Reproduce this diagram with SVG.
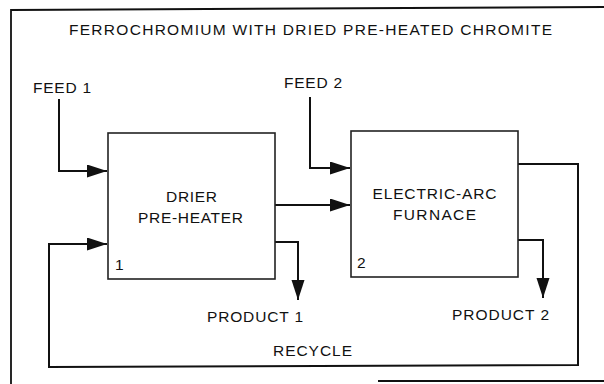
<svg xmlns="http://www.w3.org/2000/svg" width="604" height="384" viewBox="0 0 604 384">
<style>
text{font-family:"Liberation Sans",Arial,sans-serif;font-size:15.5px;fill:#111;}
.box{fill:#fff;stroke:#222;stroke-width:1.6;}
.frame{fill:none;stroke:#111;stroke-width:1.8;}
.flow{fill:none;stroke:#111;stroke-width:2;}
</style>
<defs>
<marker id="arr" markerUnits="userSpaceOnUse" markerWidth="22" markerHeight="14" refX="20" refY="6.5" orient="auto">
<path d="M0,0 L20,6.5 L0,13 Z" fill="#111"/>
</marker>
</defs>
<rect width="604" height="384" fill="#fff"/>
<g id="frame">
<path class="frame" d="M11,384 L11,10 L604,7"/>
<path class="frame" d="M378,381 L604,381"/>
</g>
<text id="title" x="69" y="35" textLength="483" lengthAdjust="spacing">FERROCHROMIUM WITH DRIED PRE-HEATED CHROMITE</text>
<g id="connectors">
<path class="flow" d="M59,99 L59,171 L107,171" marker-end="url(#arr)"/>
<path class="flow" d="M310,97 L310,168 L350,168" marker-end="url(#arr)"/>
<path class="flow" d="M275,205 L350,205" marker-end="url(#arr)"/>
<path class="flow" d="M275,242 L298,242 L298,300" marker-end="url(#arr)"/>
<path class="flow" d="M518,240 L543,240 L543,298" marker-end="url(#arr)"/>
<path class="flow" d="M518,164 L578,164 L578,365 L49,367 L49,244 L107,244" marker-end="url(#arr)"/>
</g>
<g id="drier">
<rect class="box" x="108" y="133" width="167" height="146"/>
<text x="191.5" y="202" text-anchor="middle" textLength="51" lengthAdjust="spacing">DRIER</text>
<text x="190.5" y="222.5" text-anchor="middle" textLength="105" lengthAdjust="spacing">PRE-HEATER</text>
<text x="115" y="270">1</text>
</g>
<g id="furnace">
<rect class="box" x="351" y="131" width="167" height="146"/>
<text x="434.5" y="199" text-anchor="middle" textLength="124" lengthAdjust="spacing">ELECTRIC-ARC</text>
<text x="434.5" y="220" text-anchor="middle" textLength="83" lengthAdjust="spacing">FURNACE</text>
<text x="357" y="268">2</text>
</g>
<g id="feed1"><text x="33" y="93" textLength="58" lengthAdjust="spacing">FEED 1</text></g>
<g id="feed2"><text x="284" y="88" textLength="58" lengthAdjust="spacing">FEED 2</text></g>
<g id="product1"><text x="207" y="322" textLength="96" lengthAdjust="spacing">PRODUCT 1</text></g>
<g id="product2"><text x="452" y="320" textLength="97" lengthAdjust="spacing">PRODUCT 2</text></g>
<g id="recycle"><text x="273" y="356" textLength="79" lengthAdjust="spacing">RECYCLE</text></g>
</svg>
